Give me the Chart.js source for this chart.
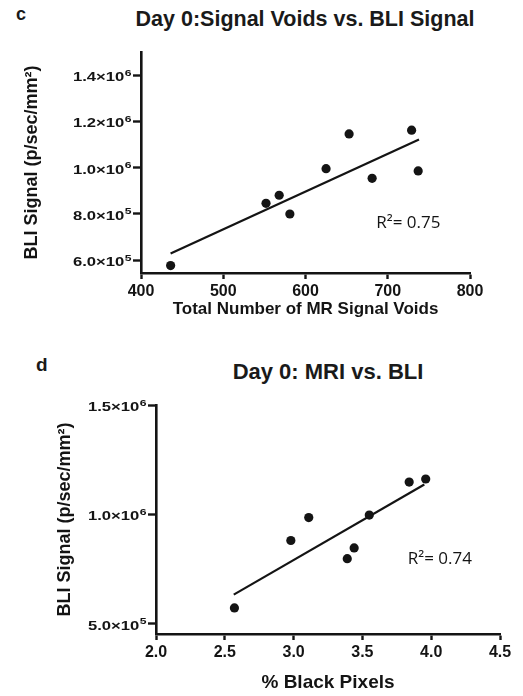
<!DOCTYPE html>
<html>
<head>
<meta charset="utf-8">
<script src="https://cdn.jsdelivr.net/npm/chart.js@4.4.1/dist/chart.umd.min.js"></script>
<style>
  html, body { margin: 0; padding: 0; background: #fff; }
  body { width: 523px; height: 696px; position: relative; overflow: hidden; font-family: "Liberation Sans", Arial, sans-serif; color: #1a1a1a; }
  canvas { position: absolute; left: 0; }
  .lbl { position: absolute; font-weight: bold; line-height: 1; white-space: nowrap; }
</style>
</head>
<body>
<div class="lbl" style="left:16px; top:5px; font-size:18px;">c</div>
<div class="lbl" style="left:105px; width:400px; text-align:center; top:9px; font-size:21.5px;">Day 0:Signal Voids vs. BLI Signal</div>
<div class="lbl" style="left:36px; top:355px; font-size:19px;">d</div>
<div class="lbl" style="left:128px; width:400px; text-align:center; top:361px; font-size:22px;">Day 0: MRI vs. BLI</div>
<canvas id="chartC" width="523" height="340" style="top:0"></canvas>
<canvas id="chartD" width="523" height="356" style="top:340px"></canvas>
<script>
// panel c: signal voids vs BLI
const voidsC = [436, 552, 568, 581, 625, 653, 681, 729, 737];
const bliC = [5.77e5, 8.46e5, 8.81e5, 8.0e5, 9.96e5, 1.146e6, 9.54e5, 1.162e6, 9.86e5];
const fitXC = [436, 738];
const fitYC = [6.29e5, 1.122e6];
const xTicksC = [400, 500, 600, 700, 800];
const yTicksC = [6e5, 8e5, 1e6, 1.2e6, 1.4e6];
const yBaseC = ['6.0\u00d710', '8.0\u00d710', '1.0\u00d710', '1.2\u00d710', '1.4\u00d710'];
const yExpC = ['5', '5', '6', '6', '6'];

// panel d: % black pixels vs BLI
const pixelsD = [2.57, 2.98, 3.11, 3.39, 3.44, 3.55, 3.84, 3.96];
const bliD = [5.73e5, 8.81e5, 9.86e5, 7.98e5, 8.47e5, 9.97e5, 1.148e6, 1.162e6];
const fitXD = [2.565, 3.95];
const fitYD = [6.34e5, 1.137e6];
const xTicksD = [2.0, 2.5, 3.0, 3.5, 4.0, 4.5];
const xLabelsD = ['2.0', '2.5', '3.0', '3.5', '4.0', '4.5'];
const yTicksD = [5e5, 1e6, 1.5e6];
const yBaseD = ['5.0\u00d710', '1.0\u00d710', '1.5\u00d710'];
const yExpD = ['5', '6', '6'];

const INK = '#141414';
const FONT = '"Liberation Sans", Arial, sans-serif';

function pairs(xs, ys) {
    return xs.map(function (x, i) { return { x: x, y: ys[i] }; });
}

// R² label drawn at a data position
const rLabel = {
    id: 'rLabel',
    afterDatasetsDraw: function (chart, args, opts) {
        const ctx = chart.ctx;
        const px = chart.scales.x.getPixelForValue(opts.x);
        const py = chart.scales.y.getPixelForValue(opts.y);
        ctx.save();
        ctx.fillStyle = INK;
        ctx.font = '17px "Open Sans", sans-serif';
        ctx.textBaseline = 'alphabetic';
        ctx.textAlign = 'left';
        ctx.fillText(opts.text, px, py);
        ctx.restore();
    }
};

// y tick labels as "m×10" with a raised exponent, slightly wide like the original
const sciTicks = {
    id: 'sciTicks',
    afterDraw: function (chart, args, opts) {
        const ctx = chart.ctx;
        const y = chart.scales.y;
        const right = y.right - 10;
        const sx = 1.28;
        ctx.save();
        ctx.fillStyle = INK;
        ctx.textBaseline = 'alphabetic';
        y.ticks.forEach(function (t, i) {
            const py = y.getPixelForValue(t.value);
            ctx.font = 'bold 9.5px ' + FONT;
            const ew = ctx.measureText(opts.exp[i]).width * sx;
            ctx.font = 'bold 13px ' + FONT;
            const bw = ctx.measureText(opts.base[i]).width * sx;
            const x0 = right - ew - bw;
            ctx.save();
            ctx.translate(x0, py + 6);
            ctx.scale(sx, 1);
            ctx.fillText(opts.base[i], 0, 0);
            ctx.restore();
            ctx.save();
            ctx.translate(x0 + bw + 0.5, py + 0.5);
            ctx.scale(sx, 1);
            ctx.font = 'bold 9.5px ' + FONT;
            ctx.fillText(opts.exp[i], 0, 0);
            ctx.restore();
        });
        ctx.restore();
    }
};

function makeChart(id, cfg) {
    return new Chart(document.getElementById(id), {
        data: {
            datasets: [{
                type: 'scatter',
                data: pairs(cfg.xs, cfg.ys),
                backgroundColor: INK,
                borderWidth: 0,
                pointRadius: 4.6,
                pointHoverRadius: 4.6
            }, {
                type: 'line',
                data: pairs(cfg.fitX, cfg.fitY),
                borderColor: INK,
                borderWidth: 2.2,
                pointRadius: 0,
                fill: false
            }]
        },
        options: {
            responsive: false,
            animation: false,
            events: [],
            layout: { padding: cfg.padding },
            plugins: {
                legend: { display: false },
                tooltip: { enabled: false },
                rLabel: cfg.r,
                sciTicks: { base: cfg.yBase, exp: cfg.yExp }
            },
            scales: {
                x: {
                    type: 'linear',
                    min: cfg.xMin,
                    max: cfg.xMax,
                    afterBuildTicks: function (s) { s.ticks = cfg.xTicks.map(function (v) { return { value: v }; }); },
                    afterFit: function (s) { s.height = cfg.xHeight; },
                    border: { display: true, color: INK, width: 2.6 },
                    grid: { drawOnChartArea: false, tickLength: 6, tickWidth: 2.4, tickColor: INK },
                    ticks: {
                        color: INK,
                        padding: 3,
                        maxRotation: 0,
                        font: { family: FONT, size: 16, weight: 'bold' },
                        callback: function (v, i) { return cfg.xLabels ? cfg.xLabels[i] : v; }
                    },
                    title: {
                        display: true,
                        text: cfg.xTitle,
                        color: INK,
                        font: { family: FONT, size: cfg.xTitleSize, weight: 'bold' },
                        padding: { top: 0, bottom: cfg.xTitlePad }
                    }
                },
                y: {
                    type: 'linear',
                    min: cfg.yMin,
                    max: cfg.yMax,
                    afterBuildTicks: function (s) { s.ticks = cfg.yTicks.map(function (v) { return { value: v }; }); },
                    afterFit: function (s) { s.width = cfg.yWidth; },
                    border: { display: true, color: INK, width: 2.6 },
                    grid: { drawOnChartArea: false, tickLength: 8, tickWidth: 2.4, tickColor: INK },
                    ticks: { display: false },
                    title: {
                        display: true,
                        text: 'BLI Signal (p/sec/mm\u00b2)',
                        color: INK,
                        font: { family: FONT, size: 18, weight: 'bold' },
                        padding: { top: cfg.yTitlePad, bottom: 0 }
                    }
                }
            }
        },
        plugins: [rLabel, sciTicks]
    });
}

makeChart('chartC', {
    xs: voidsC, ys: bliC, fitX: fitXC, fitY: fitYC,
    xMin: 400, xMax: 800, yMin: 5.45e5, yMax: 1.5e6,
    xTicks: xTicksC, yTicks: yTicksC, yBase: yBaseC, yExp: yExpC,
    padding: { top: 52, right: 53, left: 0, bottom: 0 },
    xHeight: 67, yWidth: 141,
    xTitle: 'Total Number of MR Signal Voids', xTitleSize: 17, xTitlePad: 20,
    yTitlePad: 21,
    r: { text: 'R\u00b2= 0.75', x: 686, y: 7.4e5 }
});

makeChart('chartD', {
    xs: pixelsD, ys: bliD, fitX: fitXD, fitY: fitYD,
    xMin: 2.0, xMax: 4.5, yMin: 4.54e5, yMax: 1.5e6,
    xTicks: xTicksD, xLabels: xLabelsD, yTicks: yTicksD, yBase: yBaseD, yExp: yExpD,
    padding: { top: 65, right: 23, left: 0, bottom: 0 },
    xHeight: 62, yWidth: 156,
    xTitle: '% Black Pixels', xTitleSize: 19, xTitlePad: 2,
    yTitlePad: 54,
    r: { text: 'R\u00b2= 0.74', x: 3.83, y: 7.75e5 }
});
</script>
</body>
</html>
